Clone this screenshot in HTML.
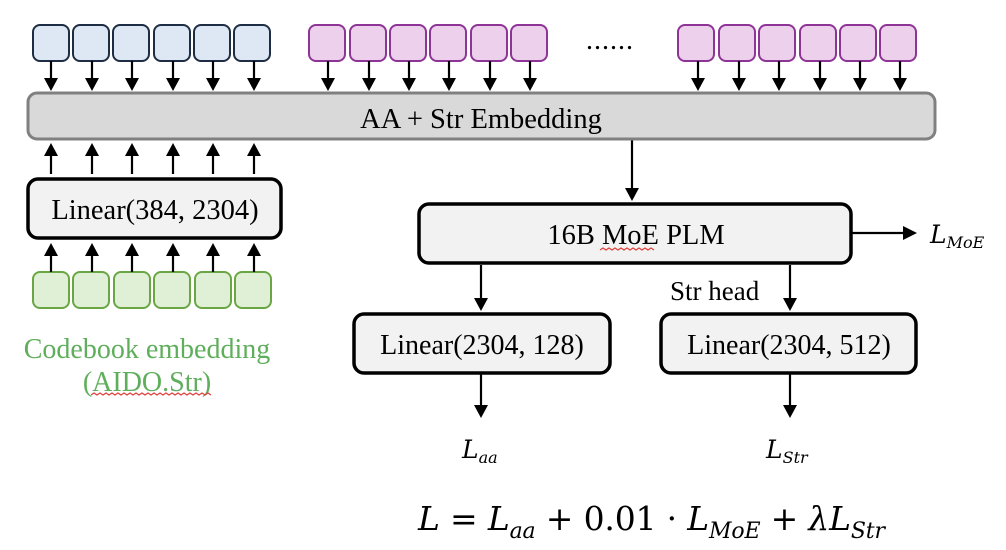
<!DOCTYPE html>
<html><head><meta charset="utf-8"><style>
html,body{margin:0;padding:0;background:#fff;}
svg{display:block;}
text{font-family:"Liberation Serif",serif;}
.m{font-family:"DejaVu Serif","Liberation Serif",serif;font-style:italic;}
</style></head><body>
<svg width="1006" height="550" viewBox="0 0 1006 550" xmlns="http://www.w3.org/2000/svg">
<g fill="#dee8f4" stroke="#1f2d44" stroke-width="2">
<rect x="33" y="25" width="36" height="36" rx="7"/>
<rect x="73" y="25" width="36" height="36" rx="7"/>
<rect x="113" y="25" width="36" height="36" rx="7"/>
<rect x="154" y="25" width="36" height="36" rx="7"/>
<rect x="194" y="25" width="36" height="36" rx="7"/>
<rect x="234" y="25" width="36" height="36" rx="7"/>
</g>
<g fill="#edd1ec" stroke="#8e3496" stroke-width="2">
<rect x="309" y="25" width="36" height="36" rx="7"/>
<rect x="350" y="25" width="36" height="36" rx="7"/>
<rect x="390" y="25" width="36" height="36" rx="7"/>
<rect x="430" y="25" width="36" height="36" rx="7"/>
<rect x="471" y="25" width="36" height="36" rx="7"/>
<rect x="511" y="25" width="36" height="36" rx="7"/>
<rect x="678" y="25" width="36" height="36" rx="7"/>
<rect x="719" y="25" width="36" height="36" rx="7"/>
<rect x="759" y="25" width="36" height="36" rx="7"/>
<rect x="800" y="25" width="36" height="36" rx="7"/>
<rect x="840" y="25" width="36" height="36" rx="7"/>
<rect x="880" y="25" width="36" height="36" rx="7"/>
</g>
<text x="610" y="49" font-size="28" text-anchor="middle" letter-spacing="1">......</text>
<g fill="#e0f0d6" stroke="#6aa744" stroke-width="2">
<rect x="33" y="272" width="36" height="36" rx="7"/>
<rect x="73" y="272" width="36" height="36" rx="7"/>
<rect x="114" y="272" width="36" height="36" rx="7"/>
<rect x="154" y="272" width="36" height="36" rx="7"/>
<rect x="195" y="272" width="36" height="36" rx="7"/>
<rect x="235" y="272" width="36" height="36" rx="7"/>
</g>
<g stroke="#000" stroke-width="2.2">
<line x1="51" y1="61" x2="51" y2="80"/><line x1="92" y1="61" x2="92" y2="80"/><line x1="132" y1="61" x2="132" y2="80"/><line x1="173" y1="61" x2="173" y2="80"/><line x1="213" y1="61" x2="213" y2="80"/><line x1="254" y1="61" x2="254" y2="80"/>
<line x1="328" y1="61" x2="328" y2="80"/><line x1="369" y1="61" x2="369" y2="80"/><line x1="409" y1="61" x2="409" y2="80"/><line x1="449" y1="61" x2="449" y2="80"/><line x1="490" y1="61" x2="490" y2="80"/><line x1="530" y1="61" x2="530" y2="80"/>
<line x1="698" y1="61" x2="698" y2="80"/><line x1="739" y1="61" x2="739" y2="80"/><line x1="779" y1="61" x2="779" y2="80"/><line x1="820" y1="61" x2="820" y2="80"/><line x1="860" y1="61" x2="860" y2="80"/><line x1="900" y1="61" x2="900" y2="80"/>
<line x1="51" y1="152" x2="51" y2="174"/><line x1="92" y1="152" x2="92" y2="174"/><line x1="132" y1="152" x2="132" y2="174"/><line x1="173" y1="152" x2="173" y2="174"/><line x1="213" y1="152" x2="213" y2="174"/><line x1="254" y1="152" x2="254" y2="174"/>
<line x1="51" y1="254" x2="51" y2="272"/><line x1="92" y1="254" x2="92" y2="272"/><line x1="132" y1="254" x2="132" y2="272"/><line x1="173" y1="254" x2="173" y2="272"/><line x1="213" y1="254" x2="213" y2="272"/><line x1="254" y1="254" x2="254" y2="272"/>
<line x1="632" y1="140" x2="632" y2="190"/>
<line x1="851" y1="233" x2="905" y2="233"/>
<line x1="481" y1="265" x2="481" y2="300"/>
<line x1="790" y1="265" x2="790" y2="300"/>
<line x1="481" y1="374" x2="481" y2="405"/>
<line x1="790" y1="374" x2="790" y2="405"/>
</g>
<g fill="#000">
<polygon points="44,78 58,78 51,91"/><polygon points="85,78 99,78 92,91"/><polygon points="125,78 139,78 132,91"/><polygon points="166,78 180,78 173,91"/><polygon points="206,78 220,78 213,91"/><polygon points="247,78 261,78 254,91"/>
<polygon points="321,78 335,78 328,91"/><polygon points="362,78 376,78 369,91"/><polygon points="402,78 416,78 409,91"/><polygon points="442,78 456,78 449,91"/><polygon points="483,78 497,78 490,91"/><polygon points="523,78 537,78 530,91"/>
<polygon points="691,78 705,78 698,91"/><polygon points="732,78 746,78 739,91"/><polygon points="772,78 786,78 779,91"/><polygon points="813,78 827,78 820,91"/><polygon points="853,78 867,78 860,91"/><polygon points="893,78 907,78 900,91"/>
<polygon points="44,156 58,156 51,143"/><polygon points="85,156 99,156 92,143"/><polygon points="125,156 139,156 132,143"/><polygon points="166,156 180,156 173,143"/><polygon points="206,156 220,156 213,143"/><polygon points="247,156 261,156 254,143"/>
<polygon points="44,256 58,256 51,243"/><polygon points="85,256 99,256 92,243"/><polygon points="125,256 139,256 132,243"/><polygon points="166,256 180,256 173,243"/><polygon points="206,256 220,256 213,243"/><polygon points="247,256 261,256 254,243"/>
<polygon points="625,188 639,188 632,201"/>
<polygon points="903,226 903,240 917,233"/>
<polygon points="474,298 488,298 481,311"/>
<polygon points="783,298 797,298 790,311"/>
<polygon points="474,405 488,405 481,418"/>
<polygon points="783,405 797,405 790,418"/>
</g>
<rect x="28" y="93" width="907" height="46" rx="9" fill="#d9d9d9" stroke="#808080" stroke-width="3"/>
<text x="481" y="128" font-size="28.5" text-anchor="middle">AA + Str Embedding</text>
<rect x="28" y="179" width="253" height="59" rx="10" fill="#f2f2f2" stroke="#000" stroke-width="3.5"/>
<text x="155" y="219" font-size="28.5" text-anchor="middle">Linear(384, 2304)</text>
<text x="147" y="358" font-size="28" text-anchor="middle" fill="#5fae5c">Codebook embedding</text>
<text x="147" y="391" font-size="28" text-anchor="middle" fill="#5fae5c">(AIDO.Str)</text>
<path d="M91,395 l3,-2 l3,2 l3,-2 l3,2 l3,-2 l3,2 l3,-2 l3,2 l3,-2 l3,2 l3,-2 l3,2 l3,-2 l3,2 l3,-2 l3,2 l3,-2 l3,2 l3,-2 l3,2 l3,-2 l3,2 l3,-2 l3,2 l3,-2 l3,2 l3,-2 l3,2 l3,-2 l3,2 l3,-2 l3,2 l3,-2 l3,2 l3,-2 l3,2 l3,-2 l3,2 l3,-2 l3,2" fill="none" stroke="#e0403a" stroke-width="1.2"/>
<rect x="419" y="204" width="432" height="59" rx="10" fill="#f2f2f2" stroke="#000" stroke-width="3.5"/>
<text x="636" y="244" font-size="28.5" text-anchor="middle">16B MoE PLM</text>
<path d="M600,250 l3,-2 l3,2 l3,-2 l3,2 l3,-2 l3,2 l3,-2 l3,2 l3,-2 l3,2 l3,-2 l3,2 l3,-2 l3,2 l3,-2 l3,2 l3,-2 l3,2" fill="none" stroke="#e0403a" stroke-width="1.2"/>
<text x="930" y="243" font-size="25" class="m">L<tspan font-size="16" dy="5">MoE</tspan></text>
<text x="670" y="300" font-size="27">Str head</text>
<rect x="354" y="314" width="256" height="59" rx="10" fill="#f2f2f2" stroke="#000" stroke-width="3.5"/>
<text x="482" y="354" font-size="28" text-anchor="middle">Linear(2304, 128)</text>
<rect x="661" y="314" width="255" height="59" rx="10" fill="#f2f2f2" stroke="#000" stroke-width="3.5"/>
<text x="789" y="354" font-size="28" text-anchor="middle">Linear(2304, 512)</text>
<text x="462" y="458" font-size="25" class="m">L<tspan font-size="16" dy="5">aa</tspan></text>
<text x="766" y="458" font-size="25" class="m">L<tspan font-size="16" dy="5">Str</tspan></text>
<text x="418" y="530" font-size="33" class="m" textLength="467">L<tspan font-style="normal"> = </tspan>L<tspan font-size="22" dy="8">aa</tspan><tspan dy="-8" font-style="normal"> + 0.01 · </tspan>L<tspan font-size="22" dy="8">MoE</tspan><tspan dy="-8" font-style="normal"> + </tspan>λL<tspan font-size="22" dy="8">Str</tspan></text>
</svg>
</body></html>
